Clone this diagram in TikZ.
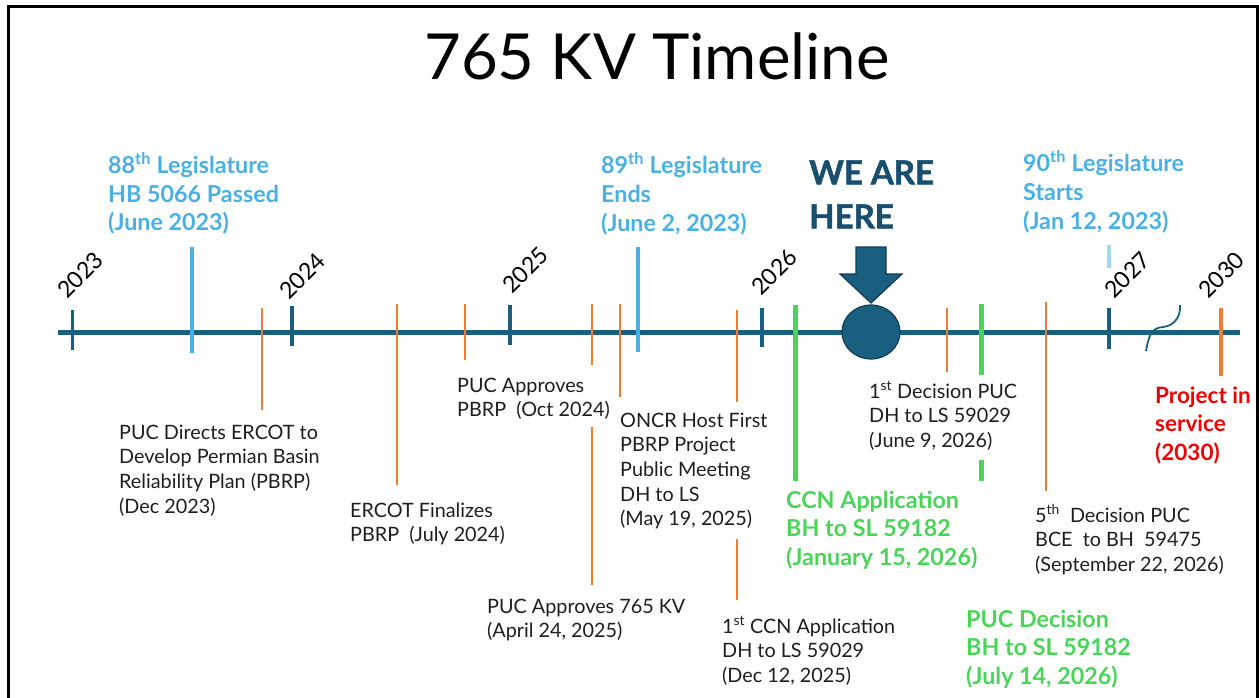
\documentclass[tikz,border=0pt]{standalone}
\usepackage{fontspec}
\setmainfont{Lato}
\newfontfamily\heavyfont[BoldFeatures={FakeBold=1.6}]{Lato}
\usetikzlibrary{shapes.geometric}
\definecolor{axisblue}{RGB}{26,94,128}
\definecolor{legblue}{RGB}{74,176,226}
\definecolor{paleblue}{RGB}{160,215,242}
\definecolor{evorange}{RGB}{237,125,49}
\definecolor{evgreen}{RGB}{76,211,90}
\definecolor{herenavy}{RGB}{24,78,110}
\definecolor{hereedge}{RGB}{18,60,85}
\definecolor{labelink}{RGB}{30,30,30}
\definecolor{alertred}{RGB}{240,0,0}
\newcommand\stack[1]{\begin{tabular}[t]{@{}l@{}}#1\end{tabular}}
\begin{document}
\begin{tikzpicture}[x=1pt,y=-1pt,
  axisline/.style={draw=axisblue, line width=5pt},
  yeartick/.style={draw=axisblue, line width=3.5pt},
  yearlabel/.style={rotate=45, anchor=base west, inner sep=0pt, text=black,
    font=\fontsize{23}{23}\selectfont},
  legtick/.style={draw=legblue, line width=4pt},
  orangetick/.style={draw=evorange, line width=1.8pt},
  greentick/.style={draw=evgreen, line width=5pt},
  evlabel/.style={anchor=base west, inner sep=0pt, text=labelink,
    font=\fontsize{19.8}{24.7}\selectfont},
  leglabel/.style={anchor=base west, inner sep=0pt, text=legblue,
    font=\bfseries\fontsize{23.3}{28.7}\selectfont},
  greenlabel/.style={anchor=base west, inner sep=0pt, text=evgreen,
    font=\bfseries\fontsize{23.3}{28.5}\selectfont},
  redlabel/.style={anchor=base west, inner sep=0pt, text=alertred,
    font=\bfseries\fontsize{22.5}{28.5}\selectfont},
]
\useasboundingbox (0,0) rectangle (1259,698);

% frame
\draw[line width=3pt] (8,702) -- (8,7) -- (1257,7) -- (1257,702);

% title
\node[anchor=base, inner sep=0pt, font=\fontsize{63.5}{64}\selectfont] (title) at (657,80) {765 KV Timeline};

% main axis
\coordinate (axisL) at (58,332);
\coordinate (axisR) at (1240,332);
\draw[axisline] (axisL) -- (axisR);

% break mark between 2027 and 2030
\draw[draw=axisblue, line width=1.8pt] (1146,351) .. controls (1149,334) and (1152,328) .. (1163,327)
  .. controls (1173,326) and (1181,318) .. (1180,305);

% year ticks and labels
\draw[yeartick] (72.7,310) -- (72.7,350);
\draw[yeartick] (292,306) -- (292,346);
\draw[yeartick] (510,305) -- (510,345);
\draw[yeartick] (762,308) -- (762,347);
\draw[yeartick] (1109,308) -- (1109,349);
\draw[draw=evorange, line width=3.5pt] (1221,308) -- (1221,376);
\node[yearlabel] (y2023) at (67,300) {2023};
\node[yearlabel] (y2024) at (289,301) {2024};
\node[yearlabel] (y2025) at (512,295) {2025};
\node[yearlabel] (y2026) at (761,297) {2026};
\node[yearlabel] (y2027) at (1114,300) {2027};
\node[yearlabel] (y2030) at (1208,300) {2030};

% legislature markers
\draw[legtick] (191.7,247) -- (191.7,353);
\draw[legtick] (638,247) -- (638,352);
\draw[draw=paleblue, line width=4pt] (1109,245) -- (1109,268);

% event markers
\draw[orangetick] (262,308) -- (262,410);
\draw[orangetick] (397,304) -- (397,485);
\draw[orangetick] (465,304) -- (465,360);
\draw[orangetick] (592,304) -- (592,365);
\draw[orangetick] (592,427) -- (592,585);
\draw[orangetick] (620,304) -- (620,397);
\draw[orangetick] (737,310) -- (737,402);
\draw[orangetick] (737,539) -- (737,600);
\draw[orangetick] (947,308) -- (947,372);
\draw[orangetick] (1046,302) -- (1046,491);
\draw[greentick] (795,305) -- (795,481);
\draw[greentick] (981,304) -- (981,375);
\draw[greentick] (981,460) -- (981,481);

% current position marker
\node[draw=hereedge, fill=axisblue, line width=1.2pt, ellipse, minimum width=58pt, minimum height=54pt, inner sep=0pt] (here) at (871,332) {};
\draw[draw=hereedge, fill=axisblue, line width=1.2pt]
  (856,247) -- (886,247) -- (886,274) -- (902,274) -- (871,303) -- (840,274) -- (856,274) -- cycle;
\node[anchor=base west, inner sep=0pt, text=herenavy, font=\heavyfont\bfseries\fontsize{33}{44}\selectfont] (herelbl) at (809,184.3) {\stack{WE ARE\\HERE}};

% legislature labels
\node[leglabel] (leg88) at (108,173.3) {\stack{88\textsuperscript{th} Legislature\\HB 5066 Passed\\(June 2023)}};
\node[leglabel] (leg89) at (601,174) {\stack{89\textsuperscript{th} Legislature\\Ends\\(June 2, 2023)}};
\node[leglabel] (leg90) at (1023,171.7) {\stack{90\textsuperscript{th} Legislature\\Starts\\(Jan 12, 2023)}};

% event labels
\node[evlabel] (ev1) at (119,439) {\stack{PUC Directs ERCOT to\\Develop Permian Basin\\Reliability Plan (PBRP)\\(Dec 2023)}};
\node[evlabel] (ev2) at (350,517) {\stack{ERCOT Finalizes\\PBRP\ \ (July 2024)}};
\node[evlabel] (ev3) at (457,392) {\stack{PUC Approves\\PBRP\ \ (Oct 2024)}};
\node[evlabel] (ev4) at (620,427) {\stack{ONCR Host First\\PBRP Project\\Public Meeting\\DH to LS\\(May 19, 2025)}};
\node[evlabel] (ev5) at (487,613) {\stack{PUC Approves 765 KV\\(April 24, 2025)}};
\node[evlabel] (ev6) at (722,633) {\stack{1\textsuperscript{st} CCN Application\\DH to LS 59029\\(Dec 12, 2025)}};
\node[evlabel] (ev7) at (869,398) {\stack{1\textsuperscript{st} Decision PUC\\DH to LS 59029\\(June 9, 2026)}};
\node[evlabel] (ev8) at (1035,522) {\stack{5\textsuperscript{th}\ \ Decision PUC\\BCE\ \ to BH\ \ 59475\\(September 22, 2026)}};
\node[greenlabel] (ev9) at (786,508) {\stack{CCN Application\\BH to SL 59182\\(January 15, 2026)}};
\node[greenlabel] (ev10) at (966,627) {\stack{PUC Decision\\BH to SL 59182\\(July 14, 2026)}};
\node[redlabel] (ev11) at (1155,403) {\stack{Project in\\service\\(2030)}};
\end{tikzpicture}
\end{document}
